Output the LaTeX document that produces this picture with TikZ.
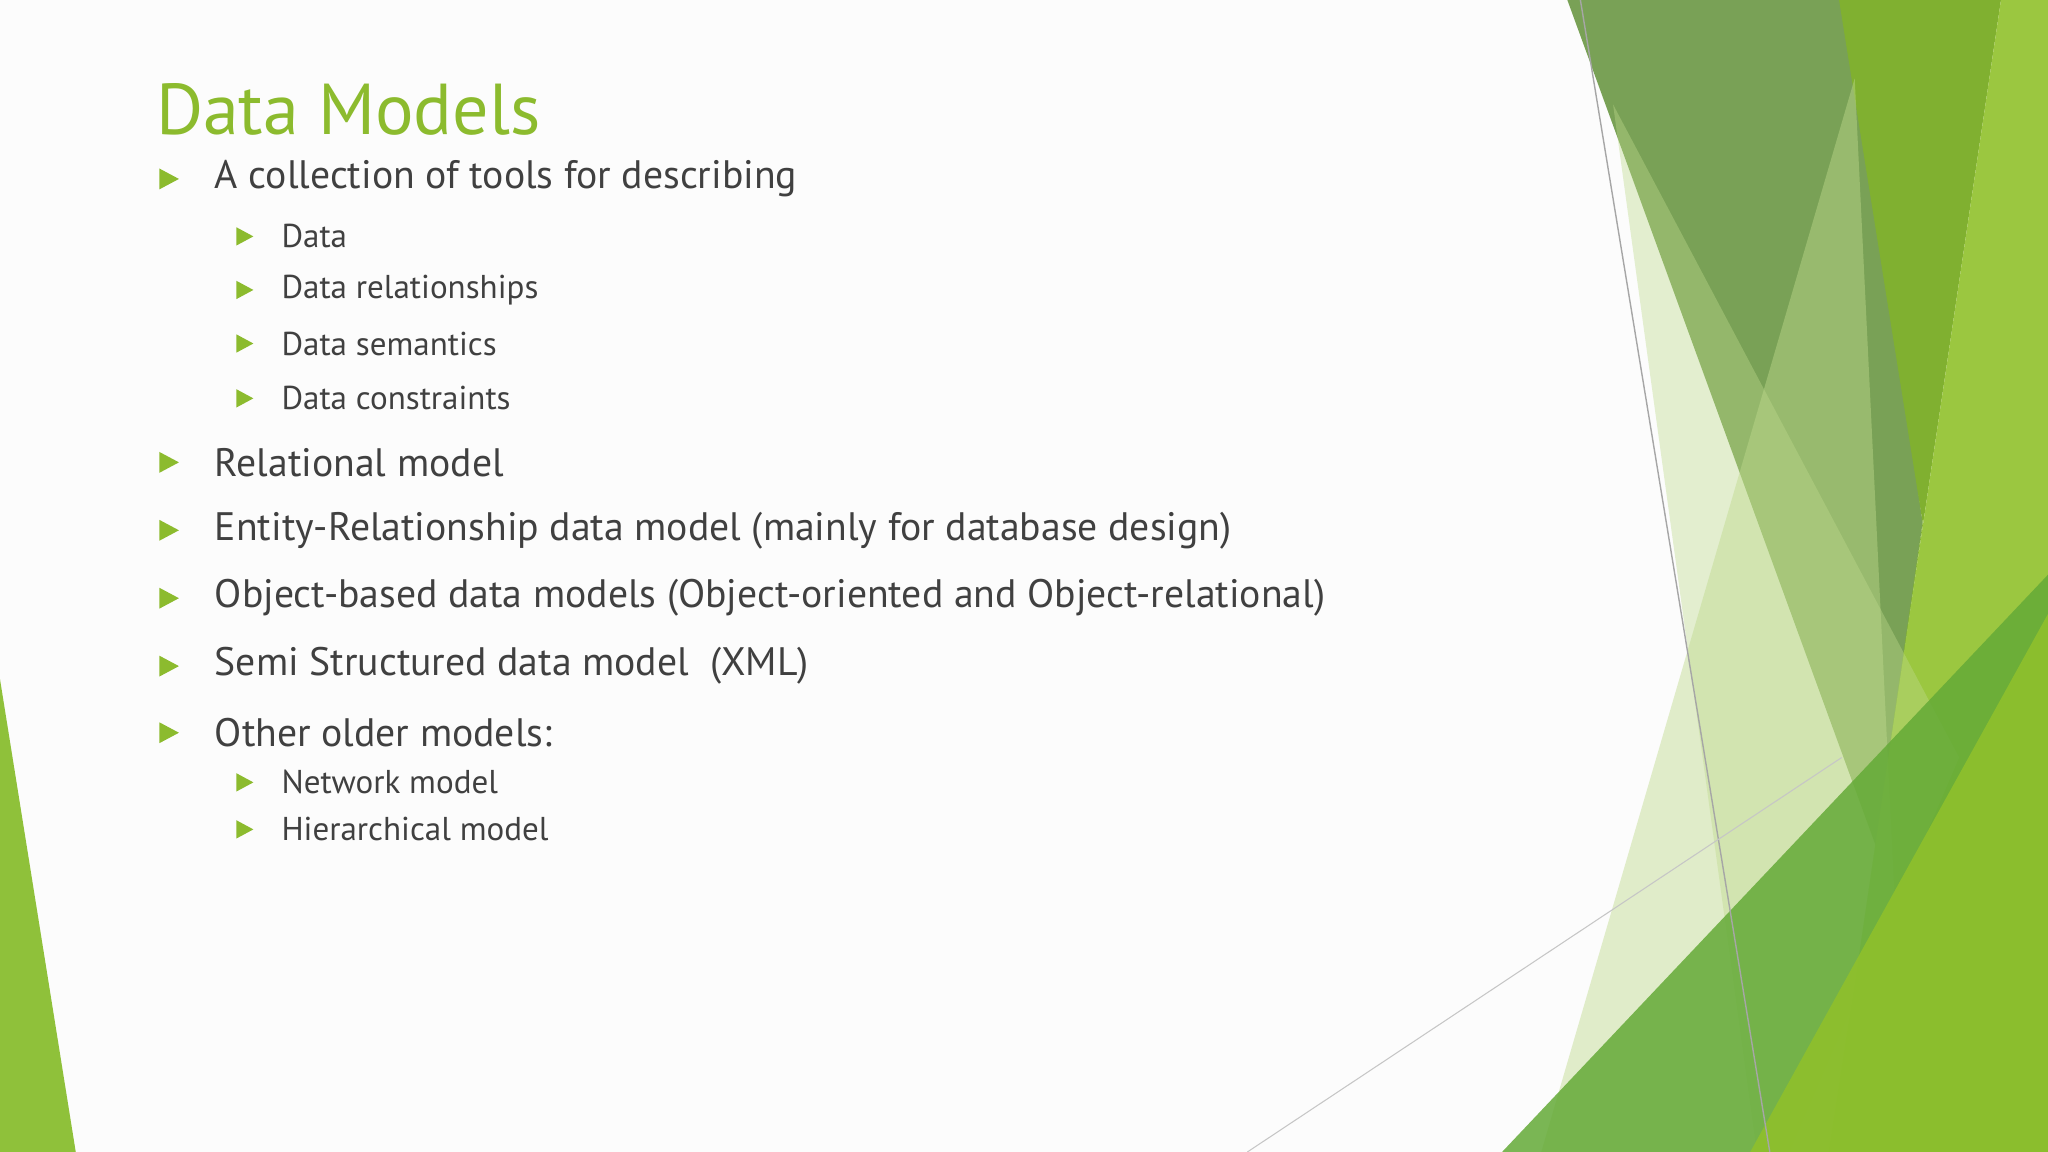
\documentclass[tikz,border=0pt]{standalone}
\usepackage{fontspec}
\setmainfont{PT Sans}
\definecolor{tx}{HTML}{404040}
\definecolor{gr}{HTML}{8CBB2E}
\begin{document}
\begin{tikzpicture}[x=0.013061cm,y=-0.013061cm,
 item/.style={anchor=west,inner sep=0,text=tx,font=\fontsize{11.3}{13}\selectfont},
 sub/.style={anchor=west,inner sep=0,text=tx,font=\fontsize{9.4}{11}\selectfont},
 bl/.style={fill=gr}]
\fill[white!98!gray] (0,0) rectangle (1568,882);
\useasboundingbox (0,0) rectangle (1568,882);
% left
\fill[fill={rgb,255:red,143;green,193;blue,58}] (0,520) -- (0,882) -- (58,882) -- cycle;
% right decoration
\fill[fill={rgb,255:red,110;green,154;blue,72},opacity=.92] (1200,0) -- (1415,0) -- (1472,400) -- (1437,650) -- cycle;
\fill[fill={rgb,255:red,128;green,176;blue,48}] (1408,0) -- (1532,0) -- (1425,720) -- (1472,400) -- cycle;
\fill[fill={rgb,255:red,155;green,199;blue,64}] (1532,0) -- (1568,0) -- (1568,882) -- (1400,882) -- (1425,720) -- cycle;
\fill[fill={rgb,255:red,190;green,218;blue,140},opacity=.45] (1420,60) -- (1180,882) -- (1460,882) -- cycle;
\fill[fill={rgb,255:red,190;green,218;blue,140},opacity=.4] (1235,80) -- (1500,580) -- (1370,882) -- (1345,882) -- cycle;
\fill[fill={rgb,255:red,100;green,170;blue,55},opacity=.85] (1150,882) -- (1568,440) -- (1568,882) -- cycle;
\fill[fill={rgb,255:red,143;green,192;blue,44},opacity=.9] (1340,882) -- (1568,470) -- (1568,882) -- cycle;
\coordinate (l1a) at (1210,0); \coordinate (l1b) at (1355,882);
\coordinate (l2a) at (955,882); \coordinate (l2b) at (1410,580);
\draw[gray!70,line width=0.4pt] (l1a) -- (l1b);
\draw[gray!45,line width=0.3pt] (l2a) -- (l2b);
% title
\node[anchor=base west,inner sep=0,text=gr,font=\fontsize{20.5}{24}\selectfont] (title) at (119,103) {Data Models};
% bullets
\foreach \y in {137,354,406,458,510,561} \fill[bl] (122,\y-8) -- (137,\y) -- (122,\y+8) -- cycle;
\foreach \y in {181,222,263,305,599,635} \fill[bl] (181,\y-7) -- (194,\y) -- (181,\y+7) -- cycle;
\node[item] (i1) at (164,137) {A collection of tools for describing};
\node[sub] (s1) at (215,181) {Data};
\node[sub] (s2) at (215,222) {Data relationships};
\node[sub] (s3) at (215,263) {Data semantics};
\node[sub] (s4) at (215,305) {Data constraints};
\node[item] (i2) at (164,354) {Relational model};
\node[item] (i3) at (164,406) {Entity-Relationship data model (mainly for database design)};
\node[item] (i4) at (164,458) {Object-based data models (Object-oriented and Object-relational)};
\node[item] (i5) at (164,510) {Semi Structured data model\ \ (XML)};
\node[item] (i6) at (164,561) {Other older models:};
\node[sub] (s5) at (215,599) {Network model};
\node[sub] (s6) at (215,635) {Hierarchical model};
\end{tikzpicture}
\end{document}
